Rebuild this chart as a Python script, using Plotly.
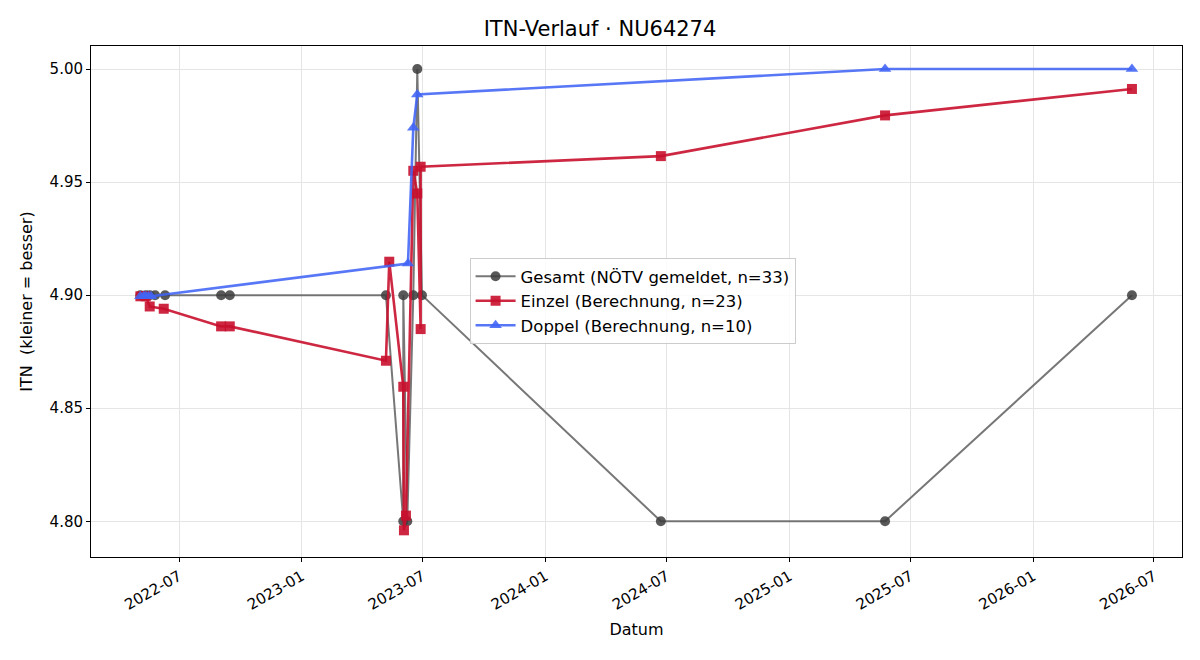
import plotly.graph_objects as go

# Gesamt (NÖTV gemeldet)
ges_dates = ["2022-05-04", "2022-05-12", "2022-05-18", "2022-05-26", "2022-06-10",
             "2022-09-02", "2022-09-15", "2023-05-07", "2023-06-02", "2023-06-02",
             "2023-06-08", "2023-06-17", "2023-06-23", "2023-06-30", "2024-06-22",
             "2025-05-24", "2026-05-29"]
ges_vals = [4.90, 4.90, 4.90, 4.90, 4.90,
            4.90, 4.90, 4.90, 4.80, 4.90,
            4.80, 4.90, 5.00, 4.90, 4.80,
            4.80, 4.90]

# Einzel (Berechnung)
ein_dates = ["2022-05-04", "2022-05-12", "2022-05-18", "2022-06-08",
             "2022-09-02", "2022-09-15", "2023-05-07", "2023-05-12",
             "2023-06-02", "2023-06-03", "2023-06-06", "2023-06-17",
             "2023-06-23", "2023-06-28", "2023-06-28", "2024-06-22",
             "2025-05-24", "2026-05-29"]
ein_vals = [4.8995, 4.8995, 4.8950, 4.8940,
            4.8862, 4.8862, 4.8710, 4.9148,
            4.8595, 4.7960, 4.8025, 4.9550,
            4.9450, 4.8850, 4.9568, 4.9615,
            4.9795, 4.9912]

# Doppel (Berechnung)
dop_dates = ["2022-05-04", "2022-05-09", "2022-05-12", "2022-05-16", "2022-05-20",
             "2023-06-09", "2023-06-17", "2023-06-23", "2025-05-24", "2026-05-29"]
dop_vals = [4.8995, 4.8995, 4.8995, 4.8995, 4.8995,
            4.9140, 4.9740, 4.9888, 5.0000, 5.0000]

x_ticks = ["2022-07-01", "2023-01-01", "2023-07-01", "2024-01-01", "2024-07-01",
           "2025-01-01", "2025-07-01", "2026-01-01", "2026-07-01"]
y_ticks = [4.80, 4.85, 4.90, 4.95, 5.00]

fig = go.Figure()
fig.add_trace(go.Scatter(
    x=ges_dates, y=ges_vals, mode="lines+markers",
    name="Gesamt (NÖTV gemeldet, n=33)",
    line=dict(color="rgba(85,85,85,0.8)", width=2),
    marker=dict(symbol="circle", size=10, color="rgba(60,60,60,0.85)"),
))
fig.add_trace(go.Scatter(
    x=ein_dates, y=ein_vals, mode="lines+markers",
    name="Einzel (Berechnung, n=23)",
    line=dict(color="rgba(200,16,46,0.9)", width=2.6),
    marker=dict(symbol="square", size=10, color="rgba(200,16,46,0.9)"),
))
fig.add_trace(go.Scatter(
    x=dop_dates, y=dop_vals, mode="lines+markers",
    name="Doppel (Berechnung, n=10)",
    line=dict(color="rgba(65,100,245,0.88)", width=2.6),
    marker=dict(symbol="triangle-up", size=11, color="rgba(65,100,245,0.88)"),
))

axis_common = dict(
    showline=True, linecolor="black", linewidth=1, mirror=True,
    ticks="outside", ticklen=4, tickcolor="black",
    showgrid=True, gridcolor="#e5e5e5", gridwidth=1,
    zeroline=False,
    tickfont=dict(family="DejaVu Sans", size=15, color="black"),
)

fig.update_layout(
    width=1200, height=660,
    margin=dict(l=91, r=18, t=46, b=103),
    paper_bgcolor="white", plot_bgcolor="white",
    font=dict(family="DejaVu Sans", color="black"),
    title=dict(text="ITN-Verlauf · NU64274", x=0.5, xanchor="center",
               y=0.957, yanchor="middle",
               font=dict(family="DejaVu Sans", size=21, color="black")),
    legend=dict(x=0.347, y=0.585, xanchor="left", yanchor="top",
                bgcolor="rgba(255,255,255,0.85)", bordercolor="#cccccc",
                borderwidth=1, font=dict(family="DejaVu Sans", size=16.5),
                itemwidth=40, tracegroupgap=6),
    showlegend=True,
)
fig.update_xaxes(
    **axis_common,
    type="date",
    range=["2022-02-19", "2026-08-12"],
    tickvals=x_ticks, tickformat="%Y-%m", tickangle=-30,
    title=dict(text="Datum", font=dict(family="DejaVu Sans", size=16), standoff=10),
)
fig.update_yaxes(
    **axis_common,
    range=[4.7842, 5.0102],
    tickvals=y_ticks, tickformat=".2f",
    title=dict(text="ITN\u00a0 (kleiner = besser)", font=dict(family="DejaVu Sans", size=16), standoff=12),
)

fig.write_html("out.html")
